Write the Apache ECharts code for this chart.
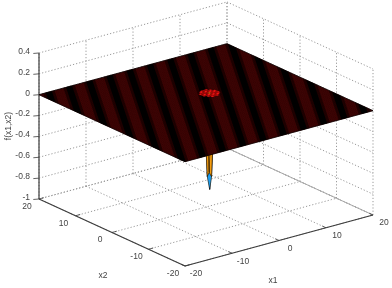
<!DOCTYPE html>
<html><head><meta charset="utf-8">
<style>html,body{margin:0;padding:0;background:#fff}#c{width:392px;height:288px}</style>
<script src="https://cdn.jsdelivr.net/npm/echarts@6/dist/echarts.min.js"></script>
</head><body><div id="c"></div>
<script>
// ---- data ----
const x1Ticks = [-20,-10,0,10,20];
const x2Ticks = [-20,-10,0,10,20];
const zTicks = [-1,-0.8,-0.6,-0.4,-0.2,0,0.2,0.4];
const zTickLabels = ['-1','-0.8','-0.6','-0.4','-0.2','0','0.2','0.4'];
// moire bands on the sheet: x1 of each dark band's centre at the x2=20 edge
const bandCentres = [-22.2,-17.9,-13.6,-9.3,-5,-0.7,3.6,7.9,12.2,16.5,20.8,25.1,29.4,33.7,38,42.3,46.6];
const meshStep = 0.25;
// dip: x1 / x2 sample positions and z values around the minimum
const dipX1 = [1.5,2,2.5,3,3.5,4,4.5,5];
const dipX2 = [1.5,2,2.5,3,3.5,4,4.5,5];
const dipZ = [
 [0,0,0,0,0,0,0,0],
 [0,0.01,0.02,0.03,0.03,0.02,0.01,0],
 [0,0.02,-0.06,-0.22,-0.3,-0.1,0.02,0],
 [0,0.03,-0.22,-0.75,-0.8,-0.3,0.03,0],
 [0,0.03,-0.3,-0.8,-0.93,-0.36,0.03,0],
 [0,0.02,-0.1,-0.3,-0.36,-0.12,0.02,0],
 [0,0.01,0.02,0.03,0.03,0.02,0.01,0],
 [0,0,0,0,0,0,0,0]
];
const wallColor = '#9a9a9a', axisColor = '#3c3c3c', textColor = '#444444';
// view: oblique projection fitted to the box corners
function px(p){ return [206 + 4.7*p[0] - 3.65*p[1], 207 - 1.275*p[0] - 1.675*p[1] - 104.3*(p[2]+1)]; }
function spikeColour(z){
  if (z<-0.7) return '#1f9ff0';
  if (z<-0.02) return '#f59d10';
  return '#7a0a0a';
}
// ---- build line lists ----
const zBot=-1, zTop=0.4;
const dotted=[];
zTicks.forEach(z=>{ dotted.push([[-20,20,z],[20,20,z]]); dotted.push([[20,20,z],[20,-20,z]]); });
x1Ticks.forEach(v=>{ dotted.push([[v,20,zBot],[v,20,zTop]]); dotted.push([[v,20,zBot],[v,-20,zBot]]); });
x2Ticks.forEach(v=>{ dotted.push([[20,v,zBot],[20,v,zTop]]); dotted.push([[-20,v,zBot],[20,v,zBot]]); });
const axes=[[[-20,20,zBot],[-20,20,zTop]],[[-20,20,zBot],[-20,-20,zBot]],[[-20,-20,zBot],[20,-20,zBot]]];
const ticks=[];
zTicks.forEach(z=>ticks.push([[-20,20,z],[-20.9,20.4,z]]));
x2Ticks.forEach(v=>ticks.push([[-20,v,zBot],[-19,v,zBot]]));
x1Ticks.forEach(v=>ticks.push([[v,-20,zBot],[v,-19,zBot]]));
function lineSeries(list,style,z){
  return {type:'custom',coordinateSystem:'cartesian2d',silent:true,z:z,clip:false,
    data:list.map((l,i)=>[i]),
    renderItem(params,api){
      const l=list[params.dataIndex];
      const a=api.coord(px(l[0])), b=api.coord(px(l[1]));
      return {type:'line',shape:{x1:a[0],y1:a[1],x2:b[0],y2:b[1]},style:style};
    }};
}
function polySeries(list,z){
  return {type:'custom',coordinateSystem:'cartesian2d',silent:true,z:z,clip:false,
    data:list.map((l,i)=>[i]),
    renderItem(params,api){
      const l=list[params.dataIndex];
      return {type:'polygon',shape:{points:l.pts.map(p=>api.coord(px(p)))},
        style:{fill:l.fill,stroke:l.stroke||null,lineWidth:l.lw||0,opacity:l.op==null?1:l.op}};
    }};
}
function textSeries(list,z){
  return {type:'custom',coordinateSystem:'cartesian2d',silent:true,z:z,clip:false,
    data:list.map((l,i)=>[i]),
    renderItem(params,api){
      const l=list[params.dataIndex];
      const c=api.coord(l.at);
      return {type:'text',x:c[0],y:c[1],rotation:l.rot||0,
        style:{text:l.t,fill:textColor,font:'8.5px "Liberation Sans"',align:l.align||'center',verticalAlign:'middle'}};
    }};
}
// sheet
const sheet=[{pts:[[-20,20,0],[20,20,0],[20,-20,0],[-20,-20,0]],fill:'#8c0c0c',stroke:'#120000',lw:0.7}];
function clipBand(c,w){
  const dx=-24.1;
  let poly=[[c-w/2,20],[c+w/2,20],[c+w/2+dx,-20],[c-w/2+dx,-20]];
  [[-20,1],[20,-1]].forEach(([lim,sg])=>{
    const out=[];
    for(let i=0;i<poly.length;i++){
      const a=poly[i],b=poly[(i+1)%poly.length];
      const ia=(a[0]-lim)*sg>=0, ib=(b[0]-lim)*sg>=0;
      if(ia) out.push(a);
      if(ia!==ib){const t=(lim-a[0])/(b[0]-a[0]);out.push([lim,a[1]+t*(b[1]-a[1])]);}
    }
    poly=out;
  });
  return poly.map(p=>[p[0],p[1],0]);
}
const bandsWide=bandCentres.map(c=>clipBand(c,2.4)).filter(p=>p.length>2).map(p=>({pts:p,fill:'#0a0000',op:0.5}));
const bandsCore=bandCentres.map(c=>clipBand(c,1.3)).filter(p=>p.length>2).map(p=>({pts:p,fill:'#000000',op:0.9}));
const lines=[];
for(let v=-20;v<=20;v+=meshStep){ lines.push([[v,20,0],[v,-20,0]]); lines.push([[-20,v,0],[20,v,0]]); }
// spike (painted back to front) below the sheet, then opening seen through the sheet
const dipLow=[], dipTop=[];
for(let i=dipX1.length-2;i>=0;i--) for(let j=dipX2.length-2;j>=0;j--){
  const q=[[dipX1[i],dipX2[j],dipZ[j][i]],[dipX1[i+1],dipX2[j],dipZ[j][i+1]],[dipX1[i+1],dipX2[j+1],dipZ[j+1][i+1]],[dipX1[i],dipX2[j+1],dipZ[j+1][i]]];
  const m=(q[0][2]+q[1][2]+q[2][2]+q[3][2])/4;
  dipLow.push({pts:q,fill:spikeColour(m),stroke:'#000',lw:0.4});
  const di=i-3, dj=j-3;
  if(Math.abs(di-dj)<=4 && Math.abs(di+dj)<=4) dipTop.push({pts:q.map(p=>[p[0],p[1],0]),fill:m<-0.7?'#f59d10':((i-j)%2===0?'#f51212':'#a00606')});
}
const option={
  animation:false,backgroundColor:'#fff',
  grid:{left:0,right:0,top:0,bottom:0},
  xAxis:{type:'value',min:0,max:392,show:false},
  yAxis:{type:'value',min:0,max:288,inverse:true,show:false},
  series:[
    lineSeries(dotted,{stroke:wallColor,lineWidth:1,lineDash:[1.2,2]},1),
    lineSeries([[[20,20,zBot],[20,-20,zBot]]],{stroke:'#a8a8a8',lineWidth:1},2),
    lineSeries(axes,{stroke:axisColor,lineWidth:1.2},3),
    lineSeries(ticks,{stroke:axisColor,lineWidth:0.8},3),
    polySeries(dipLow,4),
    polySeries(sheet,5),
    polySeries(bandsWide,6),
    polySeries(bandsCore,6),
    lineSeries(lines,{stroke:'#000',lineWidth:0.3},7),
    polySeries(dipTop,8),
    textSeries([
      ...zTicks.map((z,i)=>({t:zTickLabels[i],at:[30,px([-20,20,z])[1]-1.5],align:'right'})),
      ...x2Ticks.map(v=>({t:String(v),at:[px([-20,v,zBot])[0]-12,px([-20,v,zBot])[1]+7.5]})),
      ...x1Ticks.map(v=>({t:String(v),at:[px([v,-20,zBot])[0]+11,px([v,-20,zBot])[1]+8]})),
      {t:'x2',at:[103,276]},{t:'x1',at:[273,281]},{t:'f(x1,x2)',at:[9,126],rot:Math.PI/2}
    ],9)
  ]
};
echarts.init(document.getElementById('c'),null,{renderer:'canvas'}).setOption(option);
</script></body></html>
